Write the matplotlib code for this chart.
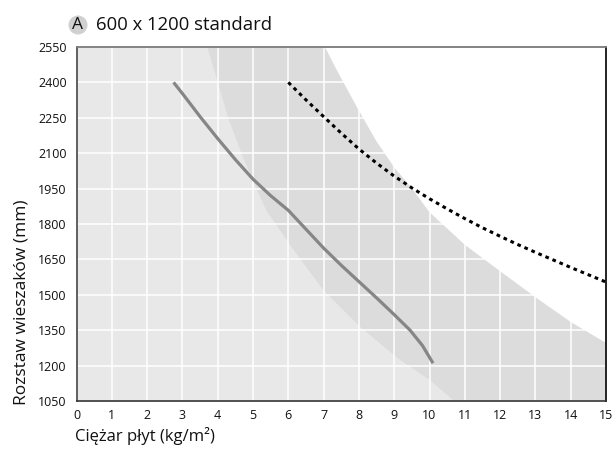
import matplotlib
matplotlib.use("Agg")
import matplotlib.pyplot as plt
from matplotlib.patches import Circle

plt.rcParams['font.family'] = ['Open Sans', 'DejaVu Sans']

# Data
x_ticks = list(range(0, 16))
y_ticks = [1050, 1200, 1350, 1500, 1650, 1800, 1950, 2100, 2250, 2400, 2550]

# Solid curve (grey)
solid_x = [2.75, 3, 3.5, 4, 4.5, 5, 5.5, 6, 6.5, 7, 7.5, 8, 8.5, 9, 9.45, 9.8, 10.1]
solid_y = [2400, 2353, 2255, 2162, 2073, 1990, 1920, 1858, 1778, 1698, 1625, 1556,
           1487, 1416, 1350, 1285, 1210]

# Dotted curve (black)
dash_x = [6, 6.5, 7, 7.5, 8, 8.5, 9, 9.5, 10, 10.5, 11, 11.5, 12, 12.5, 13, 13.5, 14, 14.5, 15]
dash_y = [2400, 2326, 2255, 2185, 2118, 2058, 2003, 1953, 1907, 1864, 1823, 1784,
          1748, 1713, 1680, 1648, 1616, 1585, 1554]

# Background zone boundaries
zone1_x = [3.70, 3.90, 4.30, 4.68, 5.10, 5.37, 6.05, 6.99, 8.03, 9.16, 10.0, 10.7]
zone1_y = [2550, 2453, 2248, 2097, 1948, 1859, 1711, 1520, 1365, 1224, 1140, 1050]
zone2_x = [7.04, 7.37, 8, 8.5, 9, 9.5, 10, 11, 12, 13, 14, 15]
zone2_y = [2550, 2453, 2280, 2150, 2040, 1951, 1850, 1712, 1600, 1490, 1385, 1296]

W, H = 613, 454
fig = plt.figure(figsize=(W / 100, H / 100), dpi=100)
ax = fig.add_axes([76.5 / W, 1 - 401 / H, (606 - 76.5) / W, (401 - 47) / H])

light = '#e8e8e8'
medium = '#dcdcdd'
ax.set_facecolor(light)
ax.set_xlim(0, 15)
ax.set_ylim(1050, 2550)

# medium zone
ax.fill(list(zone1_x) + [15, 15], list(zone1_y) + [1050, 2550],
        color=medium, lw=0, zorder=0.5)
# white zone
ax.fill(list(zone2_x) + [15], list(zone2_y) + [2550], color='white', lw=0, zorder=0.6)

ax.set_xticks(x_ticks)
ax.set_yticks(y_ticks)
ax.grid(True, color='white', lw=1.1, zorder=1)
ax.set_axisbelow(False)
for gl in ax.get_xgridlines() + ax.get_ygridlines():
    gl.set_zorder(1)

ax.plot(solid_x, solid_y, color='#868686', lw=2.3, zorder=3,
        solid_capstyle='butt', solid_joinstyle='round')
ax.plot(dash_x, dash_y, color='black', lw=2.2, linestyle=(0, (1.2, 1.3)), zorder=3,
        dash_capstyle='butt')

ax.tick_params(length=0, labelsize=9, pad=6, colors='#111111')
ax.tick_params(axis='y', pad=7)

ax.spines['top'].set_color('#7a7a7a')
ax.spines['top'].set_linewidth(1.3)
ax.spines['left'].set_color('#444444')
ax.spines['left'].set_linewidth(1.2)
ax.spines['bottom'].set_color('#333333')
ax.spines['bottom'].set_linewidth(1.2)
ax.spines['right'].set_color('#111111')
ax.spines['right'].set_linewidth(1.3)
for s in ax.spines.values():
    s.set_zorder(4)

# Title with circled A
circ = Circle((78 / 100, (H - 25) / 100), 9.5 / 100, transform=fig.dpi_scale_trans,
              facecolor='#d0d0d0', edgecolor='none')
fig.patches.append(circ)
fig.text(78 / W, 1 - 25 / H, 'A', ha='center', va='center', fontsize=12.5, color='#111111')
fig.text(96 / W, 1 - 25 / H, '600 x 1200 standard', ha='left', va='center',
         fontsize=13.3, color='#111111')

fig.text(75 / W, 1 - 436 / H, 'Ciężar płyt (kg/m²)', ha='left', va='center',
         fontsize=12, color='#111111')
fig.text(22 / W, 1 - 405 / H, 'Rozstaw wieszaków (mm)', ha='center', va='bottom',
         rotation=90, fontsize=12.5, color='#111111')

fig.savefig('out.png', dpi=100)
